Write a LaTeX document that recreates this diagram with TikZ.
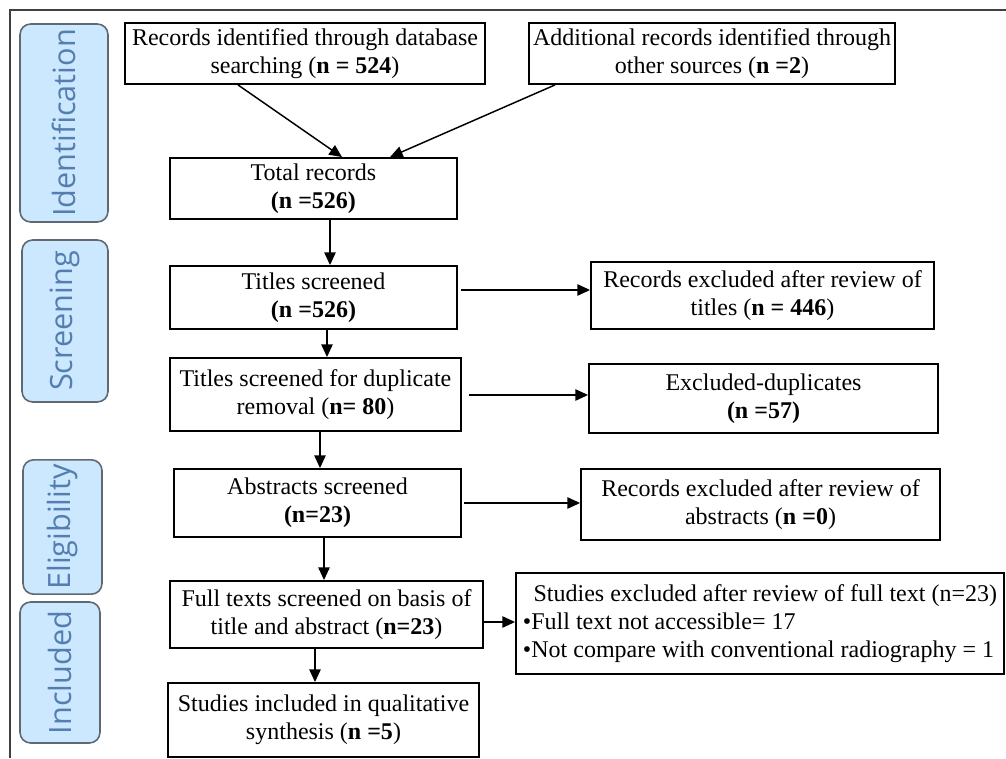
\documentclass[tikz,border=0pt]{standalone}
\usepackage{fontspec}
\setmainfont{Liberation Serif}
\newfontfamily\stagefont{Open Sans}
\usetikzlibrary{arrows.meta,calc}
\definecolor{stagefill}{RGB}{204,232,255}
\definecolor{stagetext}{RGB}{84,126,176}
\definecolor{stageline}{RGB}{95,105,115}

\begin{document}
\begin{tikzpicture}[x=0.75pt, y=0.75pt,
  box/.style={draw, line width=1.4pt, align=center, inner sep=2pt,
    font=\fontsize{18}{21}\selectfont},
  stage/.style={draw=stageline, line width=1.2pt, fill=stagefill,
    rounded corners=8pt, rotate=90, text=stagetext,
    font=\stagefont\fontsize{23}{26}\selectfont},
  arr/.style={line width=1.1pt, -{Triangle[length=9.5pt,width=8.5pt]}}]
\useasboundingbox (0,0) rectangle (1006,758);
\draw[line width=1.5pt, black!75] (10,0) -- (10,748) -- (1006,748);

% stages
\node[stage, minimum width=148.5pt, minimum height=66pt] (stIdent) at (64,635) {Identification};
\node[stage, minimum width=121.5pt, minimum height=64.5pt] (stScreen) at (65,437) {Screening};
\node[stage, minimum width=97.5pt, minimum height=59.25pt] (stElig) at (62.5,231) {Eligibility};
\node[stage, minimum width=105.75pt, minimum height=60pt] (stIncl) at (60,85.5) {Included};

% main column
\node[box, minimum width=270pt, minimum height=45.75pt] (recDB) at (305,704.5)
  {Records identified through database\\ searching (\textbf{n = 524})};
\node[box, minimum width=274.5pt, minimum height=45.75pt] (recOther) at (712,704.5)
  {Additional records identified through\\ other sources (\textbf{n =2})};
\node[box, minimum width=215.25pt, minimum height=45.75pt] (totalRec) at (313.5,569.5)
  {Total records\\ \textbf{(n =526)}};
\node[box, minimum width=215.25pt, minimum height=47.25pt] (titleScr) at (313.5,460.5)
  {Titles screened\\ \textbf{(n =526)}};
\node[box, minimum width=218.25pt, minimum height=54.75pt] (dupScr) at (315.5,363.5)
  {Titles screened for duplicate\\ removal (\textbf{n= 80})};
\node[box, minimum width=215.25pt, minimum height=51pt] (absScr) at (317.5,255)
  {Abstracts screened\\ \textbf{(n=23)}};
\node[box, minimum width=234.75pt, minimum height=50.25pt] (fullScr) at (326.5,143.5)
  {Full texts screened on basis of\\ title and abstract (\textbf{n=23})};
\node[box, minimum width=233.25pt, minimum height=55.5pt] (inclStudy) at (323.5,38)
  {Studies included in qualitative\\ synthesis (\textbf{n =5})};

% excluded column
\node[box, minimum width=257.25pt, minimum height=50.25pt] (exTitle) at (762.5,462.5)
  {Records excluded after review of\\ titles (\textbf{n = 446})};
\node[box, minimum width=261.75pt, minimum height=51.75pt] (exDup) at (763.5,359.5)
  {Excluded-duplicates\\ \textbf{(n =57)}};
\node[box, minimum width=269.25pt, minimum height=53.25pt] (exAbs) at (760.5,253.5)
  {Records excluded after review of\\ abstracts (\textbf{n =0})};
\node[box, minimum width=366pt, minimum height=75.75pt, align=left] (exFull) at (760,134.5)
  {\hspace*{8pt}Studies excluded after review of full text (n=23)\\
   \textbullet Full text not accessible= 17\\
   \textbullet Not compare with conventional radiography = 1};

% arrows
\draw[arr] ($(recDB.south)+(-67,0)$) -- ($(totalRec.north)+(28.5,0)$);
\draw[arr] ($(recOther.south)+(-157,0)$) -- ($(totalRec.north)+(76.5,0)$);
\draw[arr] ($(totalRec.south)+(16.5,0)$) -- ($(titleScr.north)+(16.5,0)$);
\draw[arr] ($(titleScr.south)+(13.5,0)$) -- ($(dupScr.north)+(11.5,0)$);
\draw[arr] ($(dupScr.south)+(4.5,0)$) -- ($(absScr.north)+(2.5,0)$);
\draw[arr] ($(absScr.south)+(6.5,0)$) -- ($(fullScr.north)+(-2.5,0)$);
\draw[arr] ($(fullScr.south)+(-11.5,0)$) -- ($(inclStudy.north)+(-8.5,0)$);
\draw[arr] ($(titleScr.east)+(3,7.5)$) -- ($(exTitle.west)+(0,5.5)$);
\draw[arr] ($(dupScr.east)+(7,-0.5)$) -- ($(exDup.west)+(0,3.5)$);
\draw[arr] ($(absScr.east)+(2,0)$) -- ($(exAbs.west)+(0,1.5)$);
\draw[arr] ($(fullScr.east)+(0,-7.5)$) -- ($(exFull.west)+(0,1.5)$);
\end{tikzpicture}
\end{document}
